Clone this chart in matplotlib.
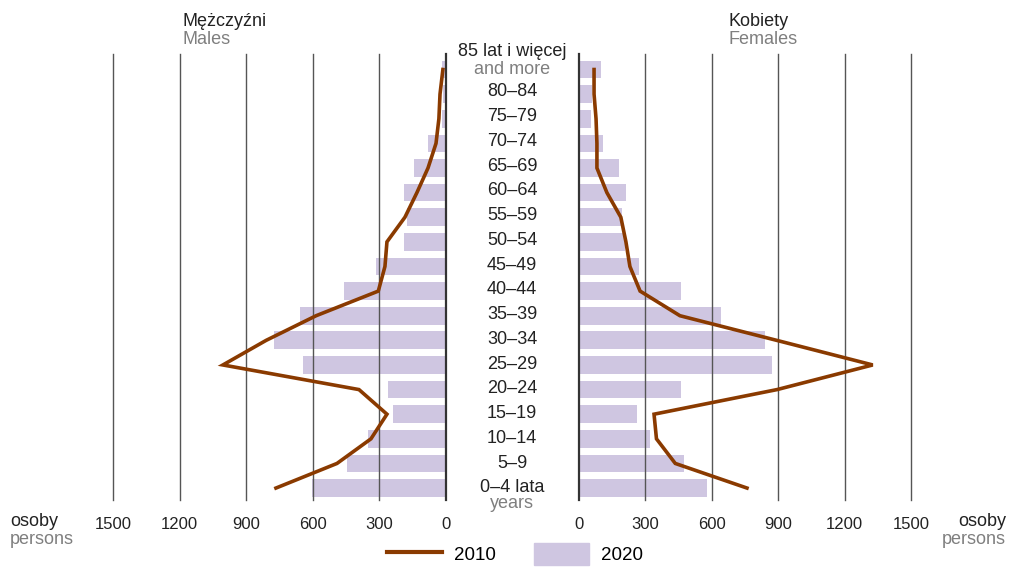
import numpy as np
import matplotlib
matplotlib.use('Agg')
import matplotlib.pyplot as plt
from matplotlib.lines import Line2D
from matplotlib.patches import Patch

plt.rcParams.update({
    "font.family": ["Liberation Sans", "DejaVu Sans"],
    "font.size": 13,
})

# age groups from youngest to oldest
age_labels = ["0–4 lata", "5–9", "10–14", "15–19", "20–24", "25–29", "30–34",
              "35–39", "40–44", "45–49", "50–54", "55–59", "60–64", "65–69",
              "70–74", "75–79", "80–84", "85 lat i więcej"]

males_2020 = [604, 446, 351, 239, 261, 644, 775, 658, 459, 315, 189, 176,
              189, 144, 81, 18, 15, 20]
males_2010 = [766, 491, 338, 266, 392, 1005, 810, 585, 305, 275, 266, 185,
              131, 81, 45, 32, 27, 14]
females_2020 = [577, 473, 320, 261, 459, 874, 842, 640, 459, 270, 207, 194,
                212, 180, 108, 54, 59, 99]
females_2010 = [759, 435, 350, 339, 895, 1327, 893, 456, 276, 230, 212, 189,
                126, 81, 81, 77, 68, 68]

ticks = [0, 300, 600, 900, 1200, 1500]

BAR = '#cfc6e1'
LINE = '#8a3a00'
GREY = '#7f7f7f'
TXT = '#222222'

fig = plt.figure(figsize=(10.10, 5.67), dpi=100)
bottom = 1 - 500 / 567
height = (500 - 54) / 567
axL = fig.add_axes([113 / 1010, bottom, 333 / 1010, height])
axR = fig.add_axes([579 / 1010, bottom, 332 / 1010, height])

y = np.arange(len(age_labels))

for ax, bars, line in [(axL, males_2020, males_2010), (axR, females_2020, females_2010)]:
    ax.barh(y, bars, height=0.72, color=BAR, zorder=1)
    for t in ticks[1:]:
        ax.axvline(t, color='#555555', lw=1.0, zorder=2, clip_on=False)
    ax.axvline(0, color='#333333', lw=1.6, zorder=2, clip_on=False)
    ax.plot(line, y, color=LINE, lw=2.6, zorder=3, solid_joinstyle='miter')
    ax.set_xlim(0, 1500)
    ax.set_ylim(-0.485, 17.63)
    for s in ax.spines.values():
        s.set_visible(False)
    ax.set_yticks([])
    ax.set_xticks(ticks)
    ax.tick_params(axis='x', length=0, pad=12, labelsize=12, labelcolor=TXT)

axL.invert_xaxis()

# age labels in the middle
def ypix(i):
    return 1 - (488 - i * 24.76) / 567

cx = 512 / 1010
for i, lab in enumerate(age_labels):
    if i == 0:
        fig.text(cx, 1 - 487 / 567, lab, ha='center', va='center', color=TXT)
        fig.text(cx, 1 - 504 / 567, "years", ha='center', va='center', color=GREY)
    elif i == len(age_labels) - 1:
        fig.text(cx, 1 - 51 / 567, lab, ha='center', va='center', color=TXT)
        fig.text(cx, 1 - 70 / 567, "and more", ha='center', va='center', color=GREY)
    else:
        fig.text(cx, ypix(i), lab, ha='center', va='center', color=TXT)

# headers
fig.text(182 / 1010, 1 - 21 / 567, "Mężczyźni", ha='left', va='center', color=TXT)
fig.text(182 / 1010, 1 - 40 / 567, "Males", ha='left', va='center', color=GREY)
fig.text(728 / 1010, 1 - 21 / 567, "Kobiety", ha='left', va='center', color=TXT)
fig.text(728 / 1010, 1 - 40 / 567, "Females", ha='left', va='center', color=GREY)

fig.text(10 / 1010, 1 - 521 / 567, "osoby", ha='left', va='center', color=TXT)
fig.text(10 / 1010, 1 - 539 / 567, "persons", ha='left', va='center', color=GREY)
fig.text(1006 / 1010, 1 - 521 / 567, "osoby", ha='right', va='center', color=TXT)
fig.text(1006 / 1010, 1 - 539 / 567, "persons", ha='right', va='center', color=GREY)

handles = [Line2D([], [], color=LINE, lw=3), Patch(color=BAR)]
fig.legend(handles, ["2010", "2020"], loc='center', ncol=2,
           bbox_to_anchor=(515 / 1010, 1 - 554 / 567), frameon=False,
           handlelength=2.9, handleheight=1.4, columnspacing=2.05,
           handletextpad=0.65, fontsize=13.5)

fig.savefig('out.png', dpi=100, facecolor='white')
